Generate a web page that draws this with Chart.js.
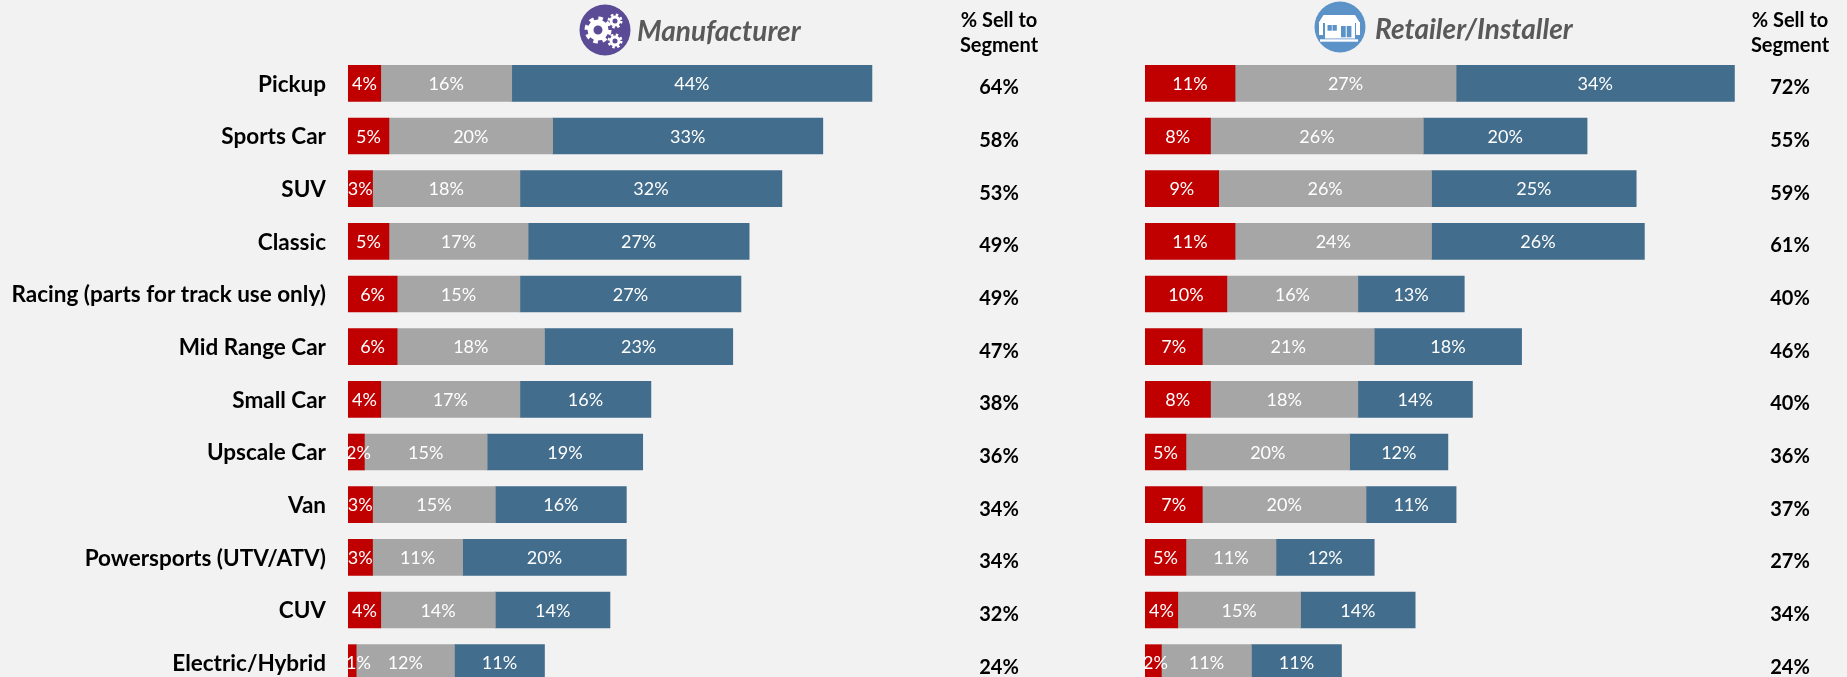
<!DOCTYPE html>
<html>
<head>
<meta charset="utf-8">
<script src="https://cdn.jsdelivr.net/npm/chart.js@4/dist/chart.umd.min.js"></script>
<style>
  html, body { margin: 0; padding: 0; background: #f2f2f2; }
  body { position: relative; width: 1847px; height: 677px; overflow: hidden; }
  canvas, svg { position: absolute; top: 0; }
  #mfr-chart { left: 0; }
  #ret-chart { left: 1100px; }
  #mfr-icon { left: 579px; top: 4px; }
  #ret-icon { left: 1314px; top: 1px; }
</style>
</head>
<body>
<canvas id="mfr-chart"></canvas>
<canvas id="ret-chart"></canvas>

<svg id="mfr-icon" width="52" height="52" viewBox="0 0 52 52">
  <circle cx="26" cy="26" r="25.5" fill="#5b4a96"/>
  <g fill="none" stroke="#fff">
    <circle cx="19" cy="26" r="7.5" stroke-width="6"/>
    <circle cx="19" cy="26" r="11.5" stroke-width="4" stroke-dasharray="4.5 4.53"/>
    <circle cx="36" cy="17" r="4" stroke-width="3"/>
    <circle cx="36" cy="17" r="6.3" stroke-width="2.4" stroke-dasharray="2.5 2.45"/>
    <circle cx="36" cy="37" r="4" stroke-width="3"/>
    <circle cx="36" cy="37" r="6.3" stroke-width="2.4" stroke-dasharray="2.5 2.45"/>
  </g>
</svg>

<svg id="ret-icon" width="52" height="52" viewBox="0 0 52 52">
  <circle cx="26" cy="26" r="25.5" fill="#5b92c8"/>
  <path d="M9.5 14 H41 L46 22 H4.5 Z" fill="#fff"/>
  <rect x="11" y="22" width="30" height="15.5" fill="#fff"/>
  <rect x="5" y="21" width="4" height="13" fill="#fff"/>
  <rect x="42" y="21" width="4" height="13" fill="#fff"/>
  <rect x="13.5" y="24" width="4.3" height="5.7" fill="#5b92c8"/>
  <rect x="18.5" y="24" width="4.3" height="5.7" fill="#5b92c8"/>
  <rect x="27" y="25" width="4.7" height="11.3" fill="#5b92c8"/>
  <rect x="32.7" y="25" width="4.7" height="11.3" fill="#5b92c8"/>
  <rect x="6" y="38.3" width="38" height="2.4" fill="#fff"/>
</svg>

<script>
const FONT = 'Lato, Carlito, sans-serif';

const categories = ['Pickup', 'Sports Car', 'SUV', 'Classic', 'Racing (parts for track use only)', 'Mid Range Car',
  'Small Car', 'Upscale Car', 'Van', 'Powersports (UTV/ATV)', 'CUV', 'Electric/Hybrid'];

const mfrRed = [4, 5, 3, 5, 6, 6, 4, 2, 3, 3, 4, 1];
const mfrGray = [16, 20, 18, 17, 15, 18, 17, 15, 15, 11, 14, 12];
const mfrBlue = [44, 33, 32, 27, 27, 23, 16, 19, 16, 20, 14, 11];
const mfrTotal = [64, 58, 53, 49, 49, 47, 38, 36, 34, 34, 32, 24];

const retRed = [11, 8, 9, 11, 10, 7, 8, 5, 7, 5, 4, 2];
const retGray = [27, 26, 26, 24, 16, 21, 18, 20, 20, 11, 15, 11];
const retBlue = [34, 20, 25, 26, 13, 18, 14, 12, 11, 12, 14, 11];
const retTotal = [72, 55, 59, 61, 40, 46, 40, 36, 37, 27, 34, 24];

// white % text centred in each segment, kept inside the bar on the short ones
const segmentLabels = {
  id: 'segmentLabels',
  afterDatasetsDraw(chart) {
    const ctx = chart.ctx;
    ctx.save();
    ctx.font = '18px ' + FONT;
    ctx.fillStyle = '#fff';
    ctx.textAlign = 'center';
    ctx.textBaseline = 'middle';
    chart.data.datasets.forEach((ds, i) => {
      chart.getDatasetMeta(i).data.forEach((bar, j) => {
        const txt = ds.data[j] + '%';
        const half = ctx.measureText(txt).width / 2;
        const x = Math.max((bar.x + bar.base) / 2, chart.chartArea.left + half - 2);
        ctx.fillText(txt, x, bar.y + 1);
      });
    });
    ctx.restore();
  }
};

// "% Sell to Segment" column beside the bars, plus the panel heading
const sidePanel = {
  id: 'sidePanel',
  afterDraw(chart, args, opts) {
    const ctx = chart.ctx;
    const y = chart.scales.y;
    ctx.save();
    ctx.textAlign = 'center';
    ctx.textBaseline = 'middle';
    ctx.fillStyle = '#000';
    ctx.font = 'bold 20px ' + FONT;
    ctx.fillText('% Sell to', opts.columnX, 21);
    ctx.fillText('Segment', opts.columnX, 46);
    opts.totals.forEach((v, i) => {
      ctx.fillText(v + '%', opts.columnX, y.getPixelForValue(i) + 4.5);
    });
    ctx.textAlign = 'left';
    ctx.fillStyle = '#595959';
    ctx.font = 'italic bold 28px ' + FONT;
    ctx.fillText(opts.title, opts.titleX, opts.titleY);
    ctx.restore();
  }
};

function makeChart(id, width, axisWidth, showLabels, red, gray, blue, panel) {
  const canvas = document.getElementById(id);
  canvas.width = width;
  canvas.height = 689;
  canvas.style.width = width + 'px';
  canvas.style.height = '689px';
  const rightPad = width - axisWidth - 614;
  return new Chart(canvas, {
    type: 'bar',
    data: {
      labels: categories,
      datasets: [
        { label: 'Red', data: red, backgroundColor: '#c00000' },
        { label: 'Gray', data: gray, backgroundColor: '#a6a6a6' },
        { label: 'Blue', data: blue, backgroundColor: '#426d8c' }
      ]
    },
    options: {
      indexAxis: 'y',
      responsive: false,
      animation: false,
      barThickness: 36,
      layout: { autoPadding: false, padding: { top: 57, right: rightPad, bottom: 0, left: 0 } },
      plugins: {
        legend: { display: false },
        tooltip: { enabled: false },
        sidePanel: panel
      },
      scales: {
        x: { stacked: true, display: false, min: 0, max: 75 },
        y: {
          stacked: true,
          afterFit(scale) {
            scale.width = axisWidth;
            // tick text adds top/bottom padding that would squeeze the rows
            scale.paddingTop = 0;
            scale.paddingBottom = 0;
            scale._margins.top = 0;
            scale._margins.bottom = 0;
          },
          grid: { display: false },
          border: { display: false },
          ticks: {
            display: showLabels,
            color: '#000',
            padding: 14,
            labelOffset: 1,
            autoSkip: false,
            font: { family: FONT, size: 22.5, weight: 'bold' }
          }
        }
      }
    },
    plugins: [segmentLabels, sidePanel]
  });
}

makeChart('mfr-chart', 1090, 348, true, mfrRed, mfrGray, mfrBlue,
  { totals: mfrTotal, columnX: 999, title: 'Manufacturer', titleX: 637, titleY: 32 });
makeChart('ret-chart', 747, 45, false, retRed, retGray, retBlue,
  { totals: retTotal, columnX: 690, title: 'Retailer/Installer', titleX: 275, titleY: 30 });
</script>
</body>
</html>
